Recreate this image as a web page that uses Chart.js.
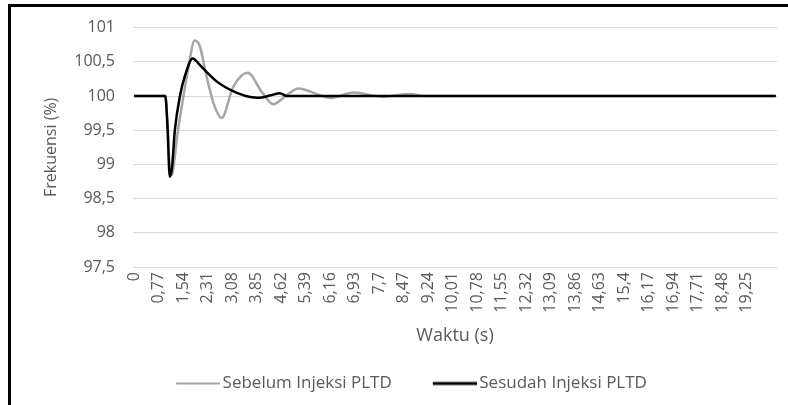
<!DOCTYPE html>
<html>
<head>
<meta charset="utf-8">
<script src="https://cdn.jsdelivr.net/npm/chart.js@4/dist/chart.umd.min.js"></script>
<style>
  html, body { margin: 0; padding: 0; background: #fff; overflow: hidden; }
  #wrap { position: relative; width: 788px; height: 405px; }
  #frame {
    position: absolute; left: 8px; top: 4px; width: 800px; height: 420px;
    border-top: 3px solid #000; border-left: 3px solid #000; pointer-events: none;
  }
</style>
</head>
<body>
<div id="wrap">
  <canvas id="freq-chart" width="788" height="405"></canvas>
  <div id="frame"></div>
</div>
<script>
/* Frekuensi sebelum / sesudah injeksi PLTD */

// x tick labels (seconds, comma decimal)
const xTickLabels = ['0', '0,77', '1,54', '2,31', '3,08', '3,85', '4,62', '5,39', '6,16', '6,93',
  '7,7', '8,47', '9,24', '10,01', '10,78', '11,55', '12,32', '13,09', '13,86', '14,63',
  '15,4', '16,17', '16,94', '17,71', '18,48', '19,25'];
const xTickValues = xTickLabels.map(s => parseFloat(s.replace(',', '.')));

// Sebelum Injeksi PLTD (grey)
const timeSebelum = [0, 0.98, 1.05, 1.12, 1.19, 1.26, 1.38, 1.55, 1.70, 1.90, 2.07, 2.23, 2.49, 2.75,
  3.11, 3.57, 4.01, 4.37, 4.76, 5.16, 5.84, 6.15, 6.89, 7.82, 8.67, 9.10, 20.16];
const sebelum = [100, 100, 99.6, 98.95, 98.85, 99.05, 99.5, 100.0, 100.4, 100.81, 100.72, 100.38, 99.9, 99.68,
  100.13, 100.34, 100.06, 99.88, 100.0, 100.11, 100.01, 99.97, 100.05, 99.99, 100.03, 100, 100];

// Sesudah Injeksi PLTD (black)
const timeSesudah = [0, 0.98, 1.05, 1.12, 1.19, 1.28, 1.44, 1.60, 1.84, 2.07, 2.28, 2.60, 2.90, 3.11,
  3.50, 3.88, 4.30, 4.58, 4.80, 20.16];
const sesudah = [100, 100, 99.53, 98.82, 98.95, 99.5, 100.0, 100.3, 100.55, 100.45, 100.35, 100.21, 100.12, 100.07,
  100.0, 99.975, 100.01, 100.04, 100.0, 100];

const FONT = 'Open Sans, sans-serif';
const TEXT_COLOR = '#595959';

const toPoints = (xs, ys) => xs.map((x, i) => ({ x, y: ys[i] }));

// legend swatch: line shifted right so the label sits close to it
function legendLine(color, width) {
  const c = document.createElement('canvas');
  c.width = 56;
  c.height = 8;
  const g = c.getContext('2d');
  g.strokeStyle = color;
  g.lineWidth = width;
  g.beginPath();
  g.moveTo(12, 4);
  g.lineTo(56, 4);
  g.stroke();
  return c;
}

const ctx = document.getElementById('freq-chart').getContext('2d');

new Chart(ctx, {
  type: 'line',
  data: {
    datasets: [
      {
        label: 'Sebelum Injeksi PLTD',
        data: toPoints(timeSebelum, sebelum),
        borderColor: '#a5a5a5',
        backgroundColor: '#a5a5a5',
        borderWidth: 2.5,
        pointRadius: 0,
        pointStyle: legendLine('#a5a5a5', 2),
        cubicInterpolationMode: 'monotone',
        order: 1,
      },
      {
        label: 'Sesudah Injeksi PLTD',
        data: toPoints(timeSesudah, sesudah),
        borderColor: '#000000',
        backgroundColor: '#000000',
        borderWidth: 2.5,
        pointRadius: 0,
        pointStyle: legendLine('#000000', 3),
        cubicInterpolationMode: 'monotone',
        order: 0,
      }
    ]
  },
  options: {
    responsive: false,
    animation: false,
    layout: { padding: { left: 40, right: 11, top: 27, bottom: 3 } },
    plugins: {
      tooltip: { enabled: false },
      legend: {
        position: 'bottom',
        labels: {
          usePointStyle: true,
          pointStyleWidth: 44,
          padding: 35,
          color: TEXT_COLOR,
          font: { family: FONT, size: 17 },
          sort: (a, b) => a.datasetIndex - b.datasetIndex,
        }
      }
    },
    scales: {
      x: {
        type: 'linear',
        min: -0.035,
        max: 20.195,
        afterBuildTicks: (scale) => {
          scale.ticks = xTickValues.map(v => ({ value: v }));
        },
        afterFit: (scale) => { scale.height = 73; },
        grid: { display: false, drawTicks: false },
        border: { display: false },
        ticks: {
          autoSkip: false,
          minRotation: 90,
          maxRotation: 90,
          padding: 5,
          color: TEXT_COLOR,
          font: { family: FONT, size: 16 },
          callback: (val, i) => xTickLabels[i],
        },
        title: {
          display: true,
          text: 'Waktu (s)',
          color: TEXT_COLOR,
          font: { family: FONT, size: 18 },
          padding: { top: 0, bottom: -7 },
        }
      },
      y: {
        min: 97.5,
        max: 101,
        afterFit: (scale) => { scale.width = 93; },
        grid: { color: '#d9d9d9', lineWidth: 1, drawTicks: false },
        border: { display: false },
        ticks: {
          stepSize: 0.5,
          padding: 18,
          color: TEXT_COLOR,
          font: { family: FONT, size: 16 },
          callback: (val) => String(val).replace('.', ','),
        },
        title: {
          display: true,
          text: 'Frekuensi (%)',
          color: TEXT_COLOR,
          font: { family: FONT, size: 16 },
          padding: { top: 2, bottom: 0 },
        }
      }
    }
  }
});
</script>
</body>
</html>
